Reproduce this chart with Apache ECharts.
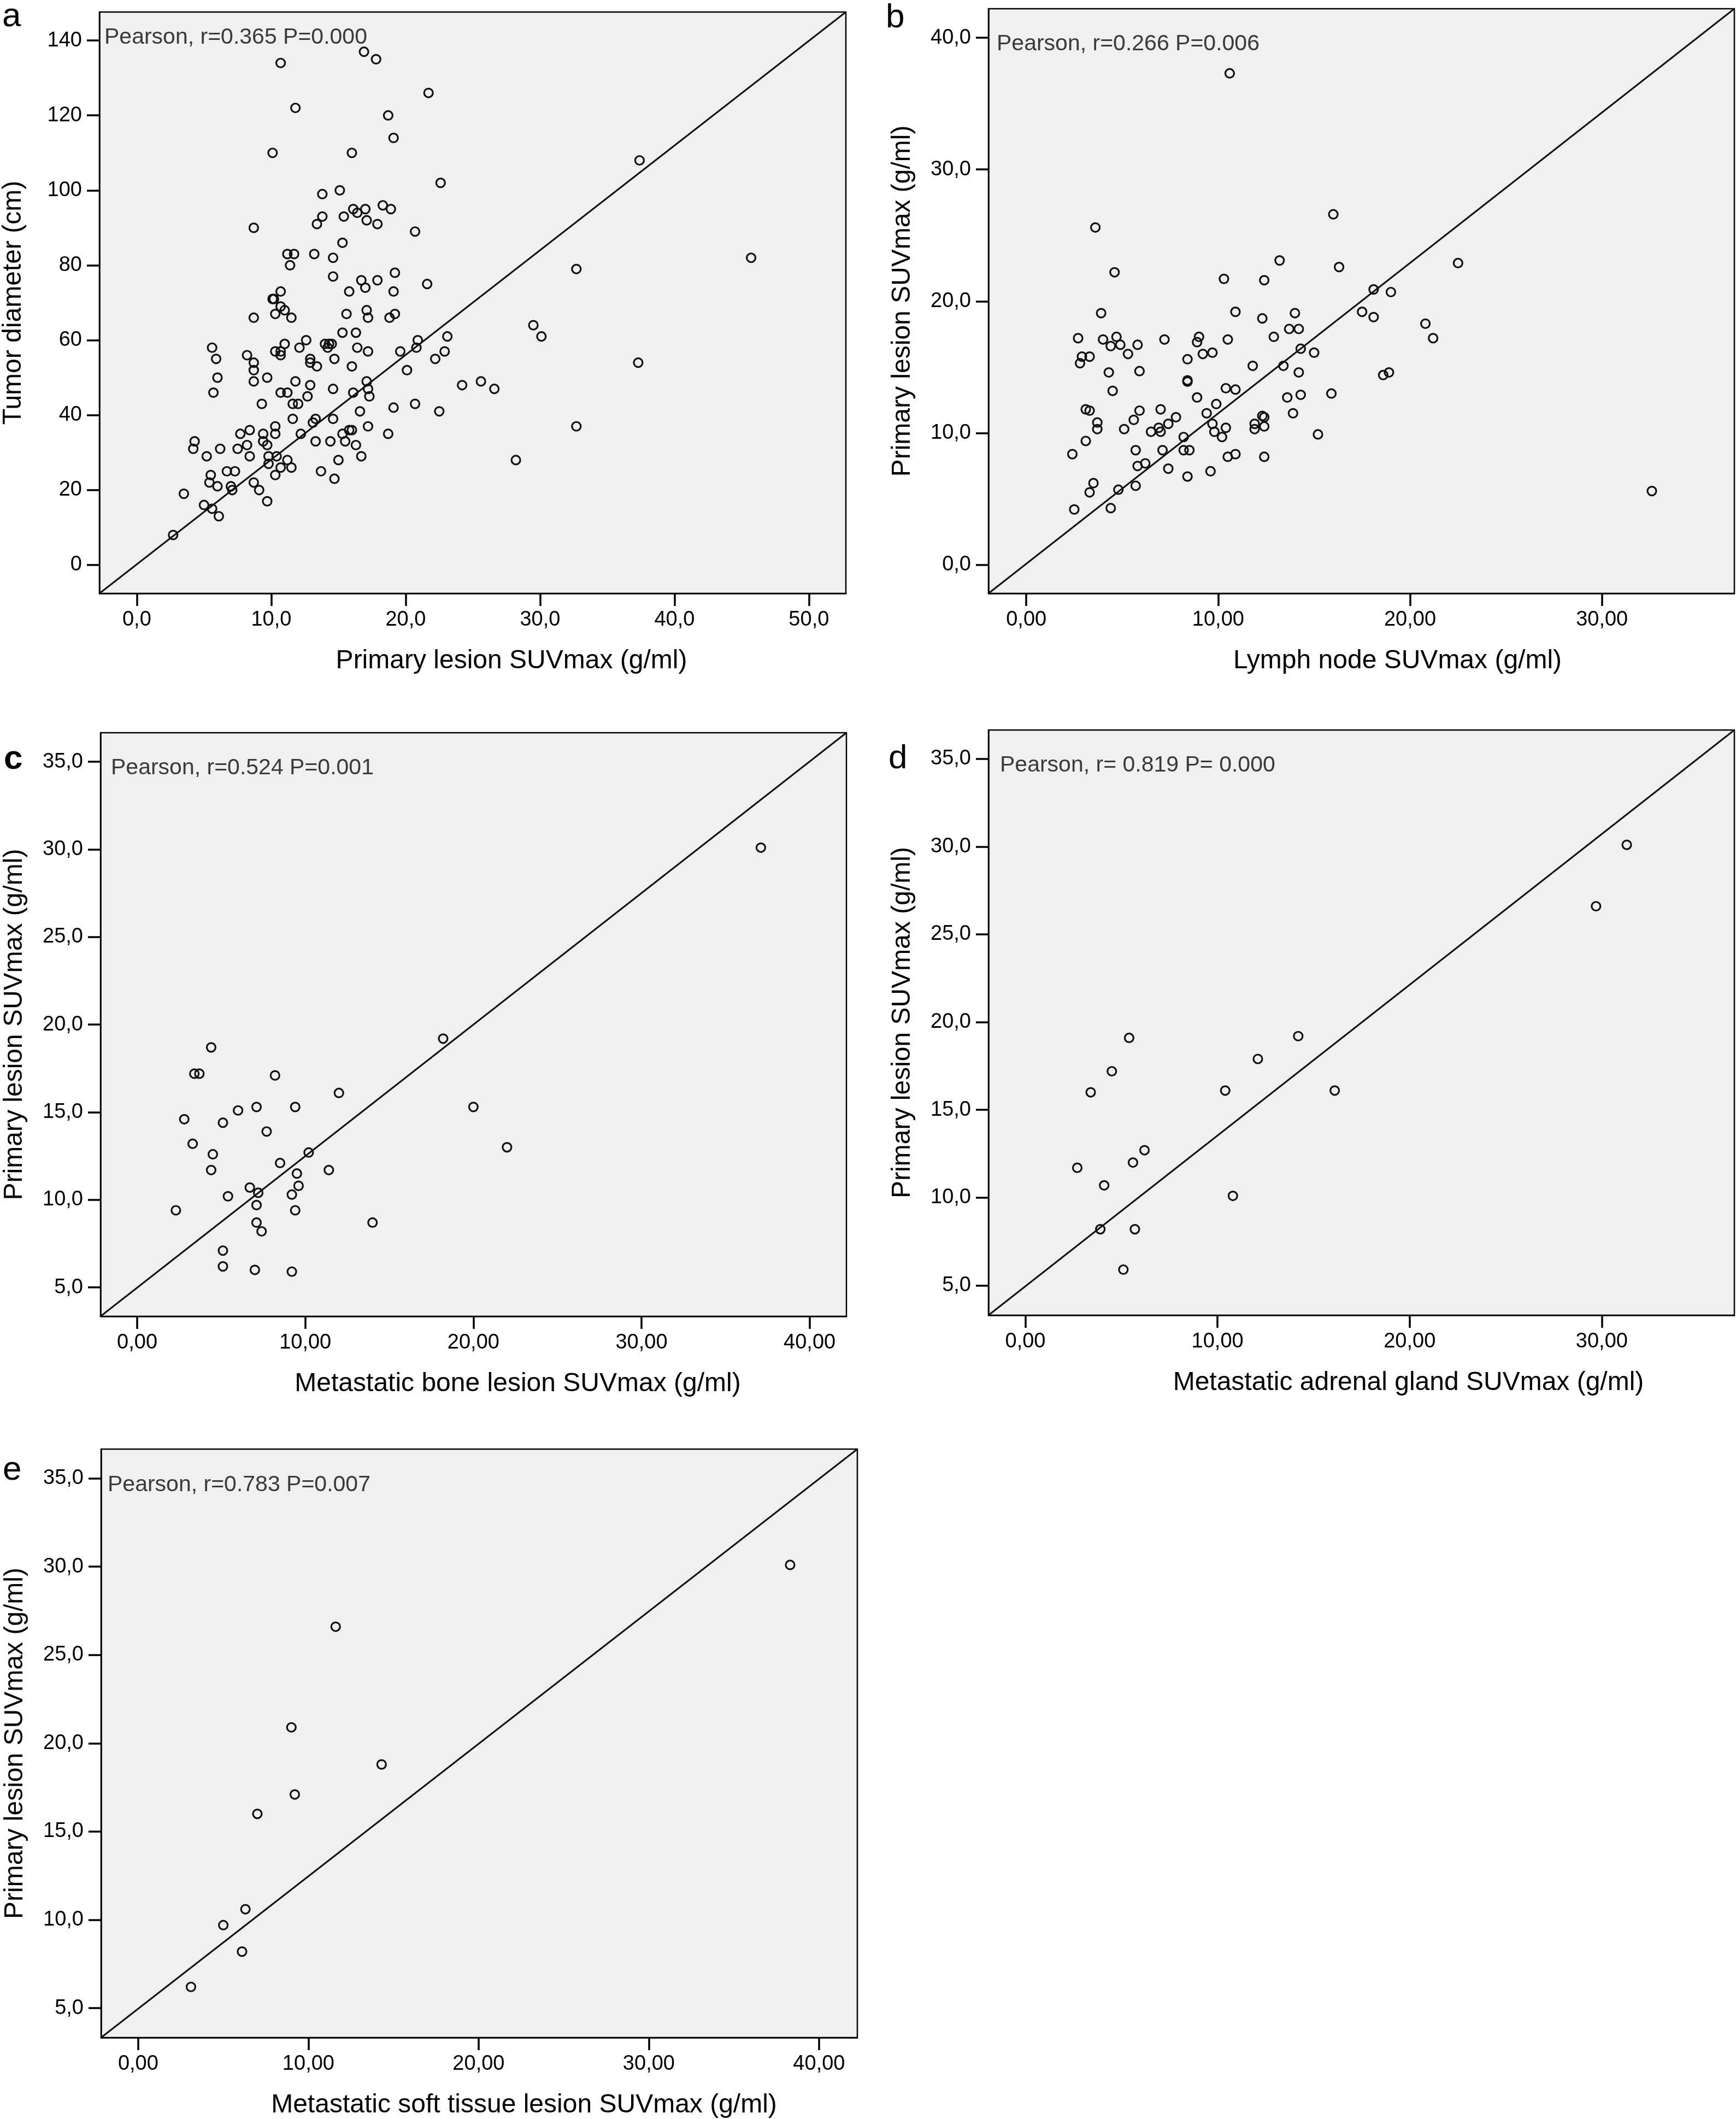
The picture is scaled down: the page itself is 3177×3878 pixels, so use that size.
<!DOCTYPE html>
<html>
<head>
<meta charset="utf-8">
<script src="https://cdn.jsdelivr.net/npm/echarts@6/dist/echarts.min.js"></script>
<style>
  html, body { margin: 0; padding: 0; background: #ffffff; }
  #chart { width: 3177px; height: 3878px; }
</style>
</head>
<body>
<div id="chart"></div>
<script>
// ---------------- DATA ----------------
// Panel a: Primary lesion SUVmax (x) vs Tumor diameter (y)
var pointsA = [
  [2.7,8],[3.5,19],[4.3,33],[4.2,31],[5.2,29],[5.0,16],[5.6,15],[6.1,13],[5.5,24],[5.4,22],[6.0,21],[6.2,31],
  [5.6,58],[5.9,55],[6.0,50],[5.7,46],[6.7,25],[7.3,25],[7.0,21],[7.1,20],[7.5,31],[7.7,35],[8.2,32],[8.4,36],
  [8.4,29],[8.2,56],[8.7,54],[8.7,52],[8.7,49],[8.7,90],[8.7,66],[8.7,22],[9.1,20],[9.7,17],[9.3,43],[9.7,50],
  [9.4,35],[9.4,33],[9.7,32],[9.8,29],[9.8,27],[10.1,110],[10.1,71],[10.2,71],[10.3,35],[10.3,37],[10.4,29],[10.3,24],
  [10.3,67],[10.3,57],[10.7,56],[10.7,57],[10.7,73],[10.7,134],[10.7,69],[11.0,68],[10.7,46],[11.2,46],[10.7,26],[11.0,59],
  [11.2,83],[11.4,80],[11.7,83],[11.5,66],[11.8,122],[11.2,28],[11.5,26],[11.6,39],[11.8,49],[11.6,43],[12.0,43],[12.2,35],
  [12.1,58],[12.6,60],[12.9,55],[12.9,54],[13.4,53],[12.9,48],[12.7,45],[13.1,38],[13.3,39],[13.3,33],[13.2,83],[13.4,91],
  [13.7,25],[13.8,99],[13.8,93],[14.0,59],[14.2,58],[14.5,59],[14.3,59],[14.6,82],[14.6,77],[14.7,55],[14.6,47],[14.6,39],
  [14.4,33],[14.7,23],[15.1,100],[15.4,93],[15.3,86],[15.3,62],[15.0,28],[15.3,35],[15.5,33],[15.6,67],[15.8,73],[16.0,110],
  [16.0,53],[15.8,36],[16.0,36],[16.1,46],[16.1,95],[16.4,94],[16.3,62],[16.4,58],[16.3,32],[16.6,41],[16.7,29],[16.7,76],
  [17.0,74],[16.9,137],[17.0,95],[17.1,92],[17.1,68],[17.2,66],[17.2,57],[17.1,49],[17.2,47],[17.3,45],[17.2,37],[17.8,135],
  [17.9,91],[17.9,76],[18.3,96],[18.7,120],[18.9,95],[19.1,114],[19.2,78],[19.1,73],[19.2,67],[18.8,66],[18.7,35],[19.1,42],
  [19.6,57],[20.1,52],[20.7,89],[20.9,60],[20.8,58],[20.7,43],[21.6,75],[21.7,126],[22.2,55],[22.6,102],[22.5,41],[22.9,57],
  [23.1,61],[24.2,48],[25.6,49],[26.6,47],[28.2,28],[29.5,64],[30.1,61],[32.7,79],[32.7,37],[37.3,54],[37.4,108],[45.7,82]
];
// Panel b: Lymph node SUVmax (x) vs Primary lesion SUVmax (y)
var pointsB = [
  [10.6,37.3],[16.0,26.6],[3.6,25.6],[4.6,22.2],[13.2,23.1],[22.5,22.9],[16.3,22.6],[10.3,21.7],[12.4,21.6],[18.1,20.9],
  [19.0,20.7],[3.9,19.1],[10.9,19.2],[14.0,19.1],[17.5,19.2],[12.3,18.7],[18.1,18.8],[13.7,17.9],[14.2,17.9],[20.8,18.3],
  [21.2,17.2],[12.9,17.3],[2.7,17.2],[4.0,17.1],[4.7,17.3],[7.2,17.1],[9.0,17.3],[8.9,16.9],[10.5,17.1],[4.4,16.6],
  [4.9,16.7],[5.8,16.7],[14.3,16.4],[15.0,16.1],[5.3,16.0],[2.9,15.8],[3.3,15.8],[2.8,15.3],[8.4,15.6],[9.2,16.0],
  [9.7,16.1],[11.8,15.1],[13.4,15.1],[4.3,14.6],[5.9,14.7],[14.2,14.6],[18.9,14.6],[18.6,14.4],[8.4,14.0],[8.4,13.9],
  [4.5,13.2],[10.4,13.4],[10.9,13.3],[15.9,13.0],[13.6,12.7],[14.3,12.9],[8.9,12.7],[9.9,12.2],[3.1,11.8],[3.3,11.7],
  [5.9,11.7],[7.0,11.8],[9.4,11.5],[13.9,11.5],[7.8,11.2],[12.3,11.3],[12.4,11.2],[5.6,11.0],[3.7,10.8],[7.4,10.7],
  [9.7,10.7],[3.7,10.3],[5.1,10.3],[6.9,10.4],[7.0,10.1],[6.5,10.1],[10.4,10.4],[9.8,10.1],[11.9,10.7],[11.9,10.3],
  [12.4,10.5],[10.2,9.7],[8.2,9.7],[15.2,9.9],[3.1,9.4],[2.4,8.4],[5.7,8.7],[7.1,8.7],[8.2,8.7],[8.5,8.7],
  [10.5,8.2],[10.9,8.4],[12.4,8.2],[6.2,7.7],[5.8,7.5],[7.4,7.3],[9.6,7.1],[8.4,6.7],[3.5,6.2],[3.3,5.5],
  [4.8,5.7],[5.7,6.0],[2.5,4.2],[4.4,4.3],[32.6,5.6]
];
// Panel c: Metastatic bone lesion SUVmax (x) vs Primary lesion SUVmax (y)
var pointsC = [
  [37.1,30.1],[18.2,19.2],[4.4,18.7],[3.4,17.2],[3.7,17.2],[8.2,17.1],[12.0,16.1],[7.1,15.3],[9.4,15.3],[20.0,15.3],
  [6.0,15.1],[2.8,14.6],[5.1,14.4],[7.7,13.9],[3.3,13.2],[22.0,13.0],[4.5,12.6],[10.2,12.7],[8.5,12.1],[4.4,11.7],
  [11.4,11.7],[9.5,11.5],[6.7,10.7],[9.6,10.8],[7.2,10.4],[9.2,10.3],[5.4,10.2],[7.1,9.7],[2.3,9.4],[9.4,9.4],
  [7.1,8.7],[14.0,8.7],[7.4,8.2],[5.1,7.1],[5.1,6.2],[7.0,6.0],[9.2,5.9]
];
// Panel d: Metastatic adrenal gland SUVmax (x) vs Primary lesion SUVmax (y)
var pointsD = [
  [31.3,30.1],[29.7,26.6],[5.4,19.1],[14.2,19.2],[12.1,17.9],[4.5,17.2],[3.4,16.0],[10.4,16.1],[16.1,16.1],
  [6.2,12.7],[5.6,12.0],[2.7,11.7],[4.1,10.7],[10.8,10.1],[3.9,8.2],[5.7,8.2],[5.1,5.9]
];
// Panel e: Metastatic soft tissue lesion SUVmax (x) vs Primary lesion SUVmax (y)
var pointsE = [
  [38.3,30.1],[11.6,26.6],[9.0,20.9],[14.3,18.8],[9.2,17.1],[7.0,16.0],[6.3,10.6],[5.0,9.7],[6.1,8.2],[3.1,6.2]
];

// Axis extents (plot frame) and tick values
var xRangeA = [-2.78, 52.75], yRangeA = [-7.6, 147.6];
var xRangeB = [-1.97, 36.9],  yRangeB = [-2.17, 42.2];
var xRangeC = [-2.18, 42.19], yRangeC = [3.35, 36.66];
var xRangeD = [-1.92, 36.9],  yRangeD = [3.3, 36.64];
var xRangeE = [-2.18, 42.25], yRangeE = [3.33, 36.66];

var xTicksA = [0, 10, 20, 30, 40, 50], yTicksA = [0, 20, 40, 60, 80, 100, 120, 140];
var xTicksB = [0, 10, 20, 30],         yTicksB = [0, 10, 20, 30, 40];
var xTicksC = [0, 10, 20, 30, 40],     yTicksC = [5, 10, 15, 20, 25, 30, 35];
var xTicksD = [0, 10, 20, 30],         yTicksD = [5, 10, 15, 20, 25, 30, 35];
var xTicksE = [0, 10, 20, 30, 40],     yTicksE = [5, 10, 15, 20, 25, 30, 35];

var panelLetters = ['a', 'b', 'c', 'd', 'e'];
var pearsonTexts = [
  'Pearson, r=0.365 P=0.000',
  'Pearson, r=0.266 P=0.006',
  'Pearson, r=0.524 P=0.001',
  'Pearson, r= 0.819 P= 0.000',
  'Pearson, r=0.783 P=0.007'
];
var xTitles = [
  'Primary lesion SUVmax (g/ml)',
  'Lymph node SUVmax (g/ml)',
  'Metastatic bone lesion SUVmax (g/ml)',
  'Metastatic adrenal gland SUVmax (g/ml)',
  'Metastatic soft tissue lesion SUVmax (g/ml)'
];
var yTitles = [
  'Tumor diameter (cm)',
  'Primary lesion SUVmax (g/ml)',
  'Primary lesion SUVmax (g/ml)',
  'Primary lesion SUVmax (g/ml)',
  'Primary lesion SUVmax (g/ml)'
];

// ---------------- LAYOUT / STYLE ----------------
var FONT = "'Liberation Sans', Arial, Helvetica, sans-serif";
var layout = [
  { left: 176,  top: 22,   width: 1372, height: 1064, xShift: 71, xDec: 1, yDec: 0,
    letter: [4, 62],      letterWeight: 'normal', pearson: [191, 92] },
  { left: 1809, top: 16,   width: 1365, height: 1070, xShift: 66, xDec: 2, yDec: 1,
    letter: [1621, 64],   letterWeight: 'normal', pearson: [1824, 104] },
  { left: 184,  top: 1341, width: 1365, height: 1068, xShift: 81, xDec: 2, yDec: 1,
    letter: [7, 1421],    letterWeight: 'bold',   pearson: [203, 1429] },
  { left: 1809, top: 1336, width: 1365, height: 1071, xShift: 86, xDec: 2, yDec: 1,
    letter: [1626, 1420], letterWeight: 'normal', pearson: [1830, 1424] },
  { left: 185,  top: 2652, width: 1384, height: 1081, xShift: 82, xDec: 2, yDec: 1,
    letter: [5, 2722],    letterWeight: 'normal', pearson: [197, 2741] }
];

var allPoints = [pointsA, pointsB, pointsC, pointsD, pointsE];
var xRanges = [xRangeA, xRangeB, xRangeC, xRangeD, xRangeE];
var yRanges = [yRangeA, yRangeB, yRangeC, yRangeD, yRangeE];
var xTicks = [xTicksA, xTicksB, xTicksC, xTicksD, xTicksE];
var yTicks = [yTicksA, yTicksB, yTicksC, yTicksD, yTicksE];

function fmt(dec) {
  return function (v) { return Number(v).toFixed(dec).replace('.', ','); };
}

var grids = [], xAxes = [], yAxes = [], series = [], graphics = [];

for (var i = 0; i < 5; i++) {
  var L = layout[i];
  grids.push({
    left: L.left, top: L.top, width: L.width, height: L.height,
    show: true, backgroundColor: '#f0f0f0', borderColor: '#000', borderWidth: 2.5,
    containLabel: false
  });
  xAxes.push({
    type: 'value', gridIndex: i, min: xRanges[i][0], max: xRanges[i][1],
    splitLine: { show: false },
    axisLine: { show: true, onZero: false, lineStyle: { color: '#000', width: 2.5 } },
    axisTick: { show: true, customValues: xTicks[i], length: 23, lineStyle: { color: '#000', width: 3.5 } },
    axisLabel: { customValues: xTicks[i], formatter: fmt(L.xDec), fontSize: 38, fontFamily: FONT,
                 color: '#000', margin: 30 },
    name: xTitles[i], nameLocation: 'middle', nameGap: 100,
    nameTextStyle: { fontSize: 48, fontFamily: FONT, color: '#000', padding: [0, 0, 0, 2 * L.xShift] }
  });
  yAxes.push({
    type: 'value', gridIndex: i, min: yRanges[i][0], max: yRanges[i][1],
    splitLine: { show: false },
    axisLine: { show: true, onZero: false, lineStyle: { color: '#000', width: 2.5 } },
    axisTick: { show: true, customValues: yTicks[i], length: 23, lineStyle: { color: '#000', width: 3.5 } },
    axisLabel: { customValues: yTicks[i], formatter: fmt(L.yDec), fontSize: 38, fontFamily: FONT,
                 color: '#000', margin: 32 },
    name: yTitles[i], nameLocation: 'middle', nameGap: 133,
    nameTextStyle: { fontSize: 48, fontFamily: FONT, color: '#000' }
  });
  // corner-to-corner reference line
  series.push({
    type: 'line', xAxisIndex: i, yAxisIndex: i, symbol: 'none', silent: true,
    data: [[xRanges[i][0], yRanges[i][0]], [xRanges[i][1], yRanges[i][1]]],
    lineStyle: { color: '#111', width: 3 }, z: 2
  });
  series.push({
    type: 'scatter', xAxisIndex: i, yAxisIndex: i, data: allPoints[i],
    symbol: 'circle', symbolSize: 16,
    itemStyle: { color: 'rgba(0,0,0,0)', borderColor: '#111', borderWidth: 3.2, opacity: 1 },
    z: 3
  });
  graphics.push({
    type: 'text', left: L.letter[0], top: L.letter[1] - 62,
    style: { text: panelLetters[i], font: L.letterWeight + ' 62px ' + FONT, fill: '#000' }
  });
  graphics.push({
    type: 'text', left: L.pearson[0], top: L.pearson[1] - 44,
    style: { text: pearsonTexts[i], font: '41px ' + FONT, fill: '#3a3a3a' }
  });
}

var chart = echarts.init(document.getElementById('chart'), null, { renderer: 'canvas' });
chart.setOption({
  backgroundColor: '#ffffff',
  animation: false,
  grid: grids,
  xAxis: xAxes,
  yAxis: yAxes,
  series: series,
  graphic: graphics
});
</script>
</body>
</html>
